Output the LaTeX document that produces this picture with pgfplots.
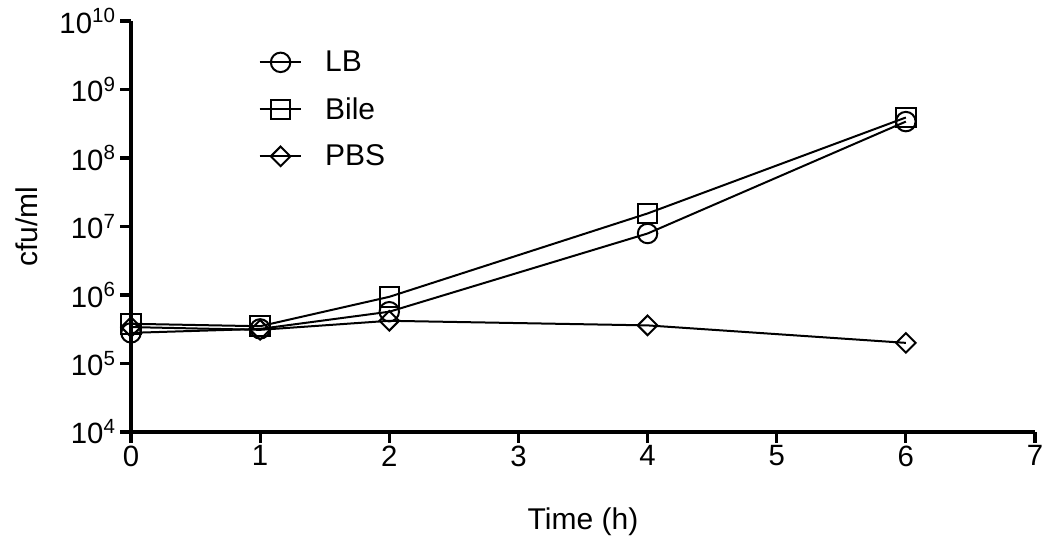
\documentclass[border=0pt]{standalone}
\usepackage{pgfplots}
\pgfplotsset{compat=1.18}
\usepackage{fontspec}
\setmainfont{Liberation Sans}
\begin{document}
\begin{tikzpicture}
\begin{axis}[
  scale only axis, width=678pt, height=308.25pt,
  ymode=log, xmin=0, xmax=7, ymin=1e4, ymax=1e10,
  axis lines=left,
  axis line style={line width=2.3pt, -},
  tick align=outside,
  major tick length=8pt,
  every tick/.style={black, line width=2.3pt},
  xtick={0,1,2,3,4,5,6,7},
  xticklabels={0,1,2,3,4,5,6,7},
  ytick={1e4,1e5,1e6,1e7,1e8,1e9,1e10},
  yticklabels={10\textsuperscript{4},10\textsuperscript{5},10\textsuperscript{6},10\textsuperscript{7},10\textsuperscript{8},10\textsuperscript{9},10\textsuperscript{10}},
  yminorticks=false, xminorticks=false,
  tick label style={font=\fontsize{22}{26}\selectfont},
  xticklabel style={inner sep=2pt},
  xlabel={Time (h)}, ylabel={cfu/ml},
  every axis x label/.style={at={(axis description cs:0.5,0)}, yshift=-67.5pt, anchor=center, font=\fontsize{22.5}{27}\selectfont},
  every axis y label/.style={at={(axis description cs:0,0.5)}, xshift=-78pt, rotate=90, anchor=center, font=\fontsize{22.5}{27}\selectfont},
  legend style={draw=none, fill=none, at={(axis description cs:0.141,0.934)}, anchor=north west,
    font=\fontsize{22.5}{27}\selectfont, row sep=13.8pt, inner sep=0pt,
    /tikz/every odd column/.append style={column sep=15pt}},
  legend cell align=left,
  legend image code/.code={\draw[mark repeat=2,mark phase=2] plot coordinates {(0cm,0cm) (0.55cm,0cm) (1.1cm,0cm)};},
  every axis plot/.append style={black, line width=1.5pt, mark options={solid, fill=none}},
  clip=false,
]
\addplot[mark=o, mark size=7.3pt] coordinates {(0,2.8e5) (1,3.2e5) (2,5.7e5) (4,7.9e6) (6,3.4e8)};
\addlegendentry{LB}
\addplot[mark=square, mark size=7.3pt] coordinates {(0,3.8e5) (1,3.5e5) (2,9.4e5) (4,1.55e7) (6,3.9e8)};
\addlegendentry{Bile}
\addplot[mark=square, mark size=5.2pt, mark options={rotate=45}] coordinates {(0,3.4e5) (1,3.1e5) (2,4.2e5) (4,3.6e5) (6,2.0e5)};
\addlegendentry{PBS}
\end{axis}
\path[use as bounding box] ([xshift=-98.25pt,yshift=-87pt]current axis.south west) rectangle ([xshift=8.25pt,yshift=15.75pt]current axis.north east);
\end{tikzpicture}
\end{document}
